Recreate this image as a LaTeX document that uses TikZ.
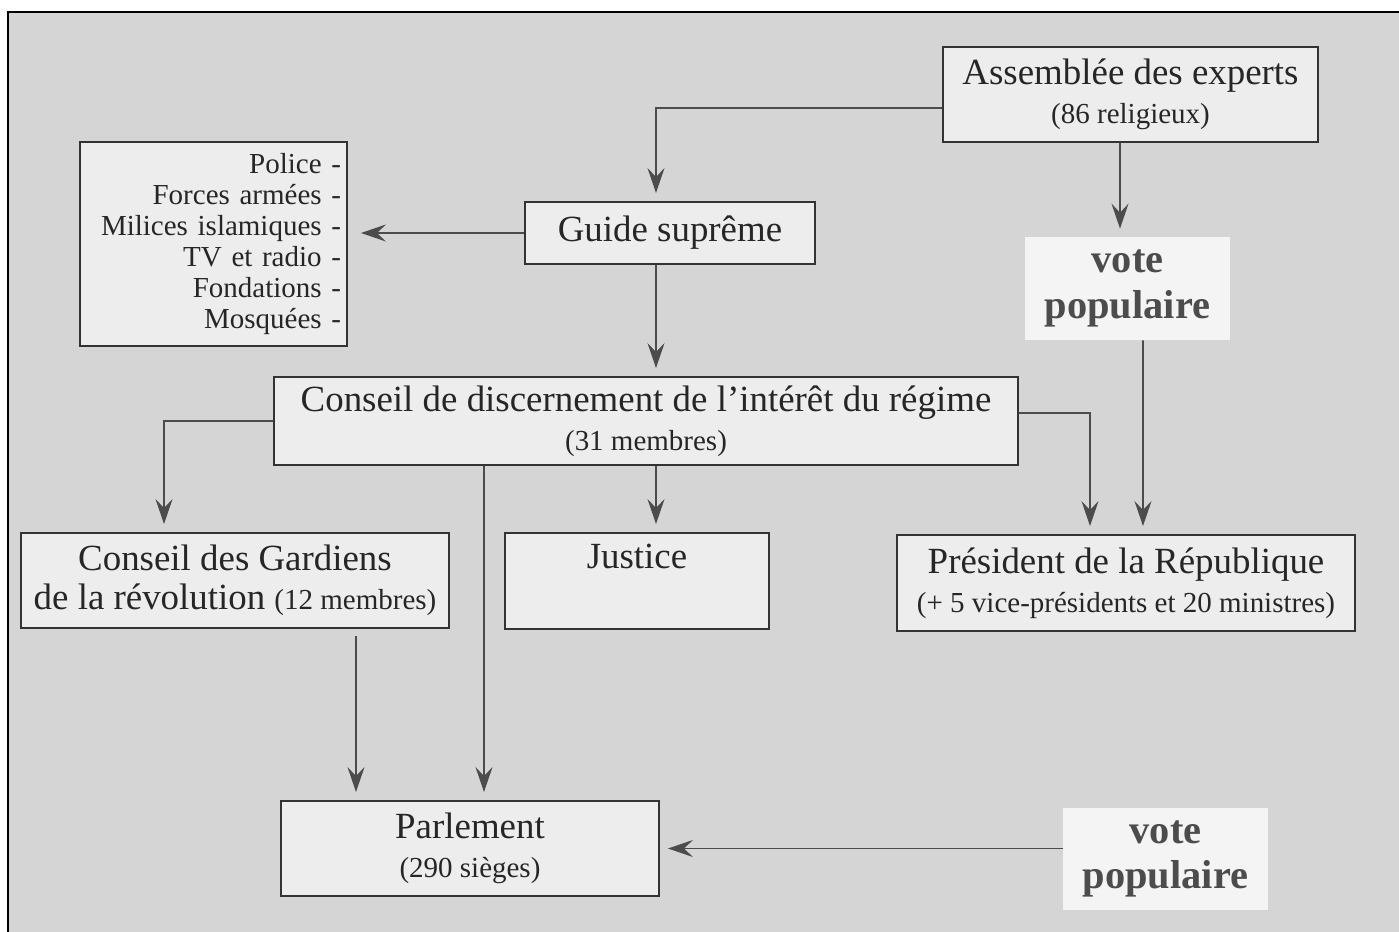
\documentclass[tikz,border=0pt]{standalone}
\usepackage{fontspec}
\setmainfont{Liberation Serif}
\usepackage{tikz}
\usetikzlibrary{arrows.meta}

\definecolor{papier}{HTML}{D5D5D5}
\definecolor{boite}{HTML}{EDEDED}
\definecolor{clair}{HTML}{F4F4F4}
\definecolor{encre}{HTML}{262626}
\newcommand{\petit}{\fontsize{16.5}{22}\selectfont}

\begin{document}
\begin{tikzpicture}[x = 0.02cm, y = -0.02cm,
  bloc/.style = {draw = black!80, line width = 1.1pt, fill = boite, text = encre,
    align = center, inner sep = 2pt, font = \fontsize{21}{22}\selectfont},
  vote/.style = {fill = clair, text = black!70, align = center,
    font = \bfseries\fontsize{23}{26}\selectfont},
  fleche/.style = {draw = black!70, line width = 1.1pt, shorten > = 0.16cm,
    -{Stealth[length = 5mm, width = 3.4mm, inset = 1.8mm]}}]
 \useasboundingbox (0, 0) rectangle (1399, 932);
 \clip (0, 0) rectangle (1399, 932);
 \fill[white] (0, 0) rectangle (1399, 932);
 \filldraw[fill = papier, line width = 1.6pt] (8, 12) rectangle (1420, 950);

 % organes
 \node[bloc, minimum width = 7.5cm, minimum height = 1.9cm] (experts) at (1130.5, 94.5)
   {Assemblée des experts\\{\petit (86 religieux)}};
 \node[bloc, minimum width = 5.8cm, minimum height = 1.24cm] (guide) at (670, 233) {Guide suprême};
 \node[bloc, minimum width = 5.34cm, minimum height = 4.08cm, text width = 5.1cm, align = right,
   font = \fontsize{16.5}{17.6}\selectfont] (forces) at (213.5, 244)
   {Police -\\Forces armées -\\Milices islamiques -\\TV et radio -\\Fondations -\\Mosquées -};
 \node[bloc, minimum width = 14.88cm, minimum height = 1.76cm] (discern) at (646, 421)
   {Conseil de discernement de l’intérêt du régime\\{\petit (31 membres)}};
 \node[bloc, minimum width = 8.56cm, minimum height = 1.9cm] (gardiens) at (235, 580.5)
   {Conseil des Gardiens\\de la révolution {\petit (12 membres)}};
 \node[bloc, minimum width = 5.28cm, minimum height = 1.92cm] (justice) at (637, 581) {Justice\\\strut};
 \node[bloc, minimum width = 9.16cm, minimum height = 1.92cm] (president) at (1126, 583)
   {Président de la République\\{\petit (+ 5 vice-présidents et 20 ministres)}};
 \node[bloc, minimum width = 7.56cm, minimum height = 1.9cm] (parlement) at (470, 848.5)
   {Parlement\\{\petit (290 sièges)}};
 \node[vote, minimum width = 4.1cm, minimum height = 2.06cm] (voteA) at (1127.5, 288.5) {vote\\populaire};
 \node[vote, minimum width = 4.1cm, minimum height = 2.04cm] (voteB) at (1165.5, 859) {vote\\populaire};

 % axes verticaux
 \coordinate (axe) at (656, 0);
 \coordinate (axeP) at (484, 0);
 \coordinate (axeG) at (356, 0);

 % liens
 \draw[fleche] ([yshift = -0.27cm]experts.west) -| (axe |- guide.north);
 \draw[fleche] ([xshift = -0.21cm]experts.south) -- ([xshift = -0.15cm]voteA.north);
 \draw[fleche, shorten > = 0.26cm] (guide.west) -- (forces.east |- guide.west);
 \draw[fleche] (axe |- guide.south) -- (axe |- discern.north);
 \draw[fleche] (discern.west) -| ([xshift = -1.42cm]gardiens.north);
 \draw[fleche] (axe |- discern.south) -- (axe |- justice.north);
 \draw[fleche] (axeP |- discern.south) -- (axeP |- parlement.north);
 \draw[fleche] ([yshift = 0.16cm]discern.east) -| ([xshift = -0.72cm]president.north);
 \draw[fleche] ([xshift = 0.31cm]voteA.south) -- ([xshift = 0.34cm]president.north);
 \draw[fleche] ([yshift = -0.14cm]axeG |- gardiens.south) -- (axeG |- parlement.north);
 \draw[fleche] (voteB.west |- parlement.east) -- (parlement.east);
\end{tikzpicture}
\end{document}
